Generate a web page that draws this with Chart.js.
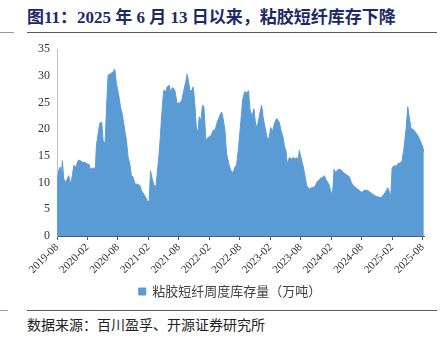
<!DOCTYPE html>
<html>
<head>
<meta charset="utf-8">
<script src="https://cdn.jsdelivr.net/npm/chart.js@4.4.0/dist/chart.umd.min.js"></script>
<style>
  html, body { margin: 0; padding: 0; background: #fff; }
  #wrap { position: relative; width: 446px; height: 339px; overflow: hidden; }
  #chart { position: absolute; left: 0; top: 0; }
  .title { position: absolute; left: 27px; top: 3px; font: bold 17px "Liberation Serif", "Noto Sans CJK SC", serif; color: #1b2a68; white-space: nowrap; }
  .rule { position: absolute; height: 1px; background: #595959; }
  .stub { position: absolute; height: 1px; background: #9a9a9a; }
  .source { position: absolute; left: 27px; top: 314px; font: 14px "Noto Sans CJK SC", sans-serif; color: #222; white-space: nowrap; }
</style>
</head>
<body>
<div id="wrap">
  <div class="title">图11：2025 年 6 月 13 日以来，粘胶短纤库存下降</div>
  <div class="stub" style="left:0;width:14px;top:32px"></div>
  <div class="rule" style="left:27px;width:410px;top:32px"></div>
  <canvas id="chart" width="446" height="308"></canvas>
  <div class="stub" style="left:0;width:8px;top:310px"></div>
  <div class="rule" style="left:27px;width:410px;top:310px"></div>
  <div class="source">数据来源：百川盈孚、开源证券研究所</div>
</div>
<script>
// months since 2019-08
const monthPos = [
  0.00, 0.40, 0.66, 0.86, 1.06, 1.32, 1.72, 1.98, 2.31, 2.64,
  3.03, 3.29, 3.69, 4.21, 4.61, 5.00, 5.46, 5.92, 6.32, 6.58,
  7.11, 7.57, 7.76, 8.09, 8.42, 8.82, 9.08, 9.47, 9.74, 10.06,
  10.39, 10.92, 11.38, 11.71, 12.10, 12.50, 12.89, 13.35, 13.68, 14.01,
  14.34, 14.67, 15.00, 15.33, 15.79, 16.31, 16.64, 17.10, 17.50, 17.76,
  18.15, 18.42, 18.68, 19.07, 19.47, 19.73, 20.12, 20.39, 20.78, 21.05,
  21.44, 21.70, 22.10, 22.36, 22.76, 23.21, 23.67, 24.20, 24.59, 24.99,
  25.38, 25.65, 25.91, 26.17, 26.57, 26.83, 27.10, 27.49, 27.82, 28.01,
  28.34, 28.67, 28.94, 29.33, 29.79, 30.25, 30.78, 31.17, 31.56, 32.09,
  32.42, 32.62, 33.08, 33.41, 33.93, 34.33, 34.72, 35.11, 35.38, 35.77,
  36.23, 36.56, 36.96, 37.35, 37.74, 38.01, 38.40, 38.80, 39.19, 39.59,
  39.98, 40.31, 40.64, 41.03, 41.49, 41.82, 42.08, 42.48, 42.81, 43.27,
  43.79, 44.12, 44.45, 44.85, 45.11, 45.37, 45.77, 46.16, 46.56, 46.95,
  47.21, 47.48, 47.74, 48.13, 48.53, 48.79, 49.18, 49.71, 50.24, 50.76,
  51.29, 51.81, 52.34, 52.67, 53.00, 53.52, 53.98, 54.31, 54.58, 54.84,
  55.10, 55.50, 55.96, 56.42, 56.81, 57.27, 57.60, 57.99, 58.39, 58.91,
  59.44, 59.90, 60.23, 60.62, 61.22, 61.68, 62.20, 62.73, 63.25, 63.78,
  64.18, 64.70, 65.16, 65.49, 65.75, 66.02, 66.41, 66.80, 67.20, 67.59,
  67.99, 68.38, 68.78, 69.10, 69.43, 69.76, 70.22, 70.62, 71.08, 71.54,
  72.07, 72.26
];
// 粘胶短纤周度库存量（万吨）
const stock = [
  10.0, 12.5, 12.9, 11.6, 14.1, 10.7, 10.0, 10.6, 11.3, 9.7,
  11.3, 13.2, 12.9, 14.2, 14.1, 13.8, 13.8, 13.5, 13.4, 12.5,
  12.7, 12.7, 16.9, 19.1, 21.1, 21.3, 17.9, 17.3, 23.8, 30.1,
  30.3, 30.6, 31.2, 28.5, 26.7, 24.2, 22.6, 19.8, 17.9, 14.7,
  13.5, 11.3, 11.0, 9.8, 9.7, 9.5, 8.5, 7.8, 7.2, 6.5,
  6.5, 12.2, 11.0, 9.6, 9.1, 11.6, 15.4, 19.1, 24.8, 27.3,
  27.0, 27.9, 28.2, 27.0, 27.8, 27.3, 24.8, 24.9, 25.4, 27.3,
  28.9, 30.3, 28.9, 27.3, 27.2, 27.9, 25.4, 19.8, 19.9, 22.3,
  21.6, 24.5, 24.2, 17.9, 18.5, 18.6, 19.8, 19.9, 21.3, 22.6,
  23.2, 22.6, 19.8, 15.4, 13.2, 12.1, 11.9, 13.0, 13.2, 16.6,
  21.6, 25.4, 27.0, 26.8, 27.2, 23.8, 22.3, 23.8, 20.3, 21.1,
  23.0, 24.5, 22.0, 20.1, 18.0, 18.5, 20.3, 19.6, 21.0, 22.0,
  21.3, 19.8, 18.8, 16.6, 16.0, 13.4, 14.7, 14.4, 14.7, 14.4,
  14.7, 14.0, 16.0, 14.4, 12.9, 11.6, 9.4, 8.8, 9.1, 9.2,
  10.2, 10.7, 11.0, 11.3, 10.5, 9.8, 8.2, 8.2, 12.5, 11.9,
  12.2, 12.5, 12.4, 11.9, 11.6, 11.3, 11.1, 10.0, 9.4, 9.0,
  8.6, 8.2, 8.3, 8.6, 8.5, 8.2, 7.8, 7.5, 7.3, 7.2,
  7.5, 8.2, 9.0, 8.2, 7.3, 12.7, 13.2, 13.0, 13.6, 13.6,
  14.1, 16.6, 20.1, 24.2, 22.0, 20.1, 19.9, 19.4, 18.8, 17.9,
  16.6, 15.7
];
const tickMonths = [0, 6, 12, 18, 24, 30, 36, 42, 48, 54, 60, 66, 72];
const tickLabels = ['2019-08', '2020-02', '2020-08', '2021-02', '2021-08', '2022-02', '2022-08',
  '2023-02', '2023-08', '2024-02', '2024-08', '2025-02', '2025-08'];

const ctx = document.getElementById('chart');
const serif = '"Liberation Serif", "Times New Roman", serif';

new Chart(ctx, {
  type: 'line',
  data: {
    datasets: [{
      label: '粘胶短纤周度库存量（万吨）',
      data: monthPos.map((m, i) => ({ x: m, y: stock[i] })),
      backgroundColor: '#5b9bd5',
      borderColor: '#5b9bd5',
      borderWidth: 1,
      pointRadius: 0,
      fill: 'origin',
      tension: 0
    }]
  },
  options: {
    responsive: false,
    animation: false,
    layout: { padding: { top: 49, right: 22, left: 36, bottom: 0 } },
    plugins: {
      tooltip: { enabled: false },
      legend: {
        position: 'bottom',
        labels: {
          boxWidth: 7, boxHeight: 7, padding: 12,
          color: '#404040',
          font: { family: '"Noto Sans CJK SC", sans-serif', size: 13 }
        }
      }
    },
    scales: {
      x: {
        type: 'linear',
        min: 0,
        max: 72.3,
        afterBuildTicks: (s) => { s.ticks = tickMonths.map(v => ({ value: v })); },
        afterFit: (s) => { s.height = 37; },
        ticks: {
          minRotation: 45, maxRotation: 45, autoSkip: false,
          padding: 1,
          color: '#333',
          font: { family: serif, size: 11 },
          callback: (v) => tickLabels[tickMonths.indexOf(v)]
        },
        grid: { display: true, drawOnChartArea: false, drawTicks: true, tickLength: 4, color: '#595959' },
        border: { display: true, color: '#595959', width: 1 }
      },
      y: {
        min: 0,
        max: 35,
        afterFit: (s) => { s.width = 21; },
        ticks: {
          stepSize: 5,
          padding: 7,
          color: '#333',
          font: { family: serif, size: 12 }
        },
        grid: { display: false, drawTicks: false },
        border: { display: true, color: '#bfbfbf', width: 1 }
      }
    }
  }
});
</script>
</body>
</html>
